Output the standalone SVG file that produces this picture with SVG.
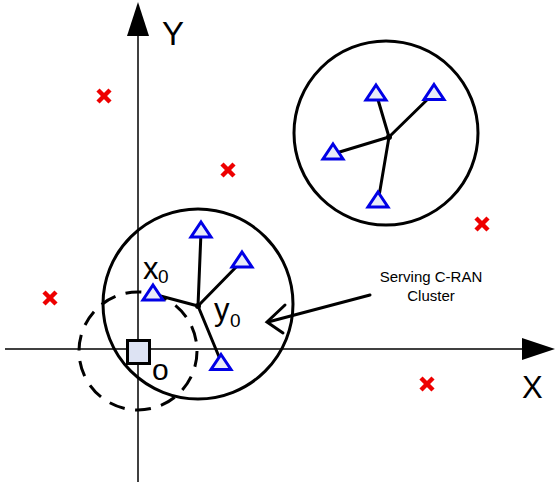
<svg xmlns="http://www.w3.org/2000/svg" width="555" height="489" viewBox="0 0 555 489">
<defs>
<style>
.ax{stroke:#000;stroke-width:1.5;fill:none}
.cl{stroke:#000;stroke-width:3;fill:none}
.ln{stroke:#000;stroke-width:3;fill:none;stroke-linecap:round}
.tri{stroke:#0000e6;stroke-width:3;fill:#e8ecf8;stroke-linejoin:miter}
.rx{stroke:#ee0000;stroke-width:4.5;stroke-linecap:butt}
.lbl{font-family:"Liberation Sans",Arial,sans-serif;fill:#000}
</style>
<path id="t" d="M0,-8 L10,7 L-10,7 Z"/>
<g id="x"><line x1="-6" y1="-6" x2="6" y2="6"/><line x1="-6" y1="6" x2="6" y2="-6"/></g>
</defs>
<rect width="555" height="489" fill="#fff"/>
<g id="axes">
<line class="ax" x1="138" y1="34" x2="138" y2="482"/>
<polygon points="138,2 127,36 149,36" fill="#000"/>
<line class="ax" x1="5" y1="349" x2="524" y2="349"/>
<polygon points="555,349 522,338 522,360" fill="#000"/>
<text class="lbl" x="162" y="45" font-size="33">Y</text>
<text class="lbl" x="522" y="398" font-size="31">X</text>
</g>
<g id="markers" class="rx">
<use href="#x" x="104" y="96"/>
<use href="#x" x="228" y="170"/>
<use href="#x" x="482" y="224"/>
<use href="#x" x="50" y="298"/>
<use href="#x" x="427" y="384"/>
</g>
<g id="cluster-upper">
<circle class="cl" cx="386" cy="133" r="92"/>
<line class="ln" x1="389" y1="137" x2="376" y2="93"/>
<line class="ln" x1="389" y1="137" x2="433" y2="94"/>
<line class="ln" x1="389" y1="137" x2="333" y2="154"/>
<line class="ln" x1="389" y1="137" x2="378" y2="202"/>
<circle cx="389" cy="137" r="3" fill="#000"/>
<use class="tri" href="#t" x="376" y="93"/>
<use class="tri" href="#t" x="434" y="92.5"/>
<use class="tri" href="#t" x="333" y="152"/>
<use class="tri" href="#t" x="378" y="200"/>
</g>
<g id="dashed-circle">
<circle cx="138" cy="351" r="59" fill="none" stroke="#000" stroke-width="3" stroke-dasharray="16 10.5"/>
</g>
<g id="cluster-serving">
<circle class="cl" cx="198" cy="304" r="95"/>
<line class="ln" x1="198" y1="306" x2="201" y2="232"/>
<line class="ln" x1="198" y1="306" x2="241" y2="262"/>
<line class="ln" x1="198" y1="306" x2="153" y2="294"/>
<line class="ln" x1="198" y1="306" x2="222" y2="364"/>
<circle cx="198" cy="306" r="3" fill="#000"/>
<use class="tri" href="#t" x="201" y="230"/>
<use class="tri" href="#t" x="242" y="260"/>
<use class="tri" href="#t" x="153" y="293"/>
<use class="tri" href="#t" x="221" y="362.5"/>
<text class="lbl" x="143" y="279" font-size="31">x</text>
<text class="lbl" x="158" y="283" font-size="19">0</text>
<text class="lbl" x="214" y="320" font-size="31">y</text>
<text class="lbl" x="230" y="327" font-size="19">0</text>
</g>
<g id="origin">
<rect x="127.5" y="340.5" width="22" height="23" fill="#dde3f3" stroke="#000" stroke-width="3"/>
<text class="lbl" x="152" y="380" font-size="30">o</text>
</g>
<g id="label-serving">
<text class="lbl" font-size="15" text-anchor="middle"><tspan x="431" y="282">Serving C-RAN</tspan><tspan x="431" y="301">Cluster</tspan></text>
</g>
<g id="connectors">
<line class="ln" x1="370" y1="295" x2="268" y2="322"/>
<polyline class="ln" points="285,305 267,322 283,333" stroke-linejoin="miter"/>
</g>
</svg>
